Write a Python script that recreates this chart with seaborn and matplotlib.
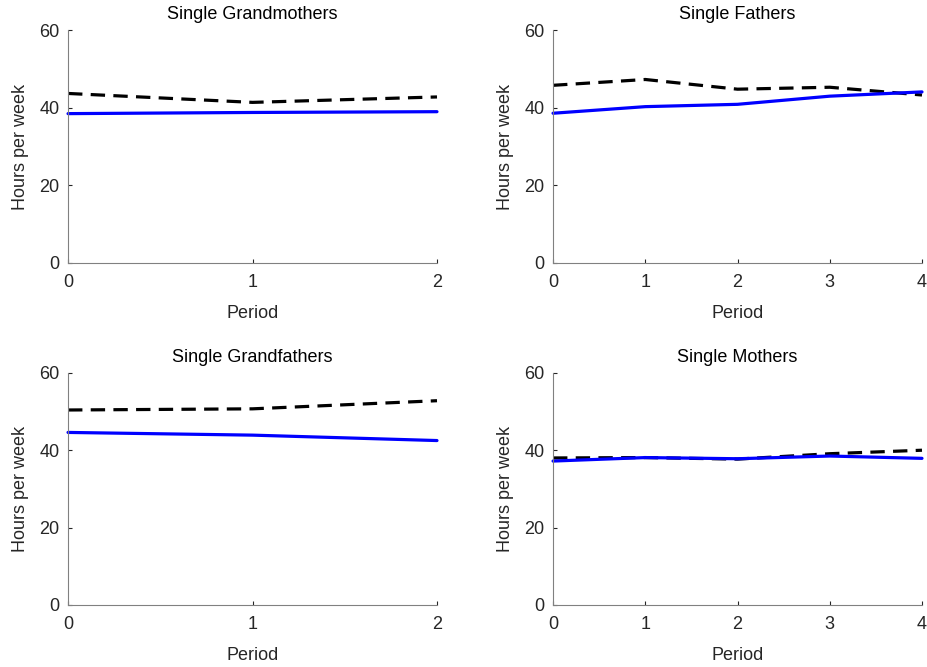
import matplotlib
matplotlib.use("Agg")
import matplotlib.pyplot as plt
import seaborn as sns
import pandas as pd

# hours per week by period, solid = blue series, dashed = black series
gm_period = [0, 1, 2]
gm_solid = [38.5, 38.8, 39.0]
gm_dashed = [43.7, 41.4, 42.8]

sf_period = [0, 1, 2, 3, 4]
sf_solid = [38.6, 40.3, 40.9, 43.0, 44.1]
sf_dashed = [45.8, 47.3, 44.8, 45.3, 43.3]

gf_period = [0, 1, 2]
gf_solid = [44.6, 43.9, 42.5]
gf_dashed = [50.4, 50.7, 52.8]

sm_period = [0, 1, 2, 3, 4]
sm_solid = [37.2, 38.1, 37.8, 38.5, 37.9]
sm_dashed = [38.0, 38.1, 37.7, 39.1, 40.0]

panels = [
    ("Single Grandmothers", gm_period, gm_solid, gm_dashed),
    ("Single Fathers", sf_period, sf_solid, sf_dashed),
    ("Single Grandfathers", gf_period, gf_solid, gf_dashed),
    ("Single Mothers", sm_period, sm_solid, sm_dashed),
]

sns.set_theme(style="ticks")
plt.rcParams['font.family'] = ['Liberation Sans', 'DejaVu Sans']
plt.rcParams['xtick.direction'] = 'in'
plt.rcParams['ytick.direction'] = 'in'

fig = plt.figure(figsize=(9.27, 6.67), dpi=100)

positions = [
    [0.0734, 0.6057, 0.398, 0.349],
    [0.5966, 0.6057, 0.398, 0.349],
    [0.0734, 0.0930, 0.398, 0.348],
    [0.5966, 0.0930, 0.398, 0.348],
]

fs = 13

for pos, (title, period, solid, dashed) in zip(positions, panels):
    ax = fig.add_axes(pos)

    df = pd.DataFrame({"Period": period, "solid": solid, "dashed": dashed})

    sns.lineplot(
        data=df, x="Period", y="dashed", ax=ax,
        color="black", linewidth=2.3, clip_on=False,
    )
    ax.lines[-1].set_linestyle((0, (4.5, 2.6)))

    sns.lineplot(
        data=df, x="Period", y="solid", ax=ax,
        color="#0000ff", linewidth=2.3, clip_on=False,
    )

    ax.set_xlim(0, max(period))
    ax.set_ylim(0, 60)
    ax.set_xticks(period)
    ax.set_yticks([0, 20, 40, 60])

    ax.set_title(title, fontsize=fs, color="black", pad=8)
    ax.set_xlabel("Period", fontsize=fs, color="#262626", labelpad=10)
    ax.set_ylabel("Hours per week", fontsize=fs, color="#262626", labelpad=7.5)

    ax.tick_params(labelsize=fs, colors="#262626", length=3, width=0.8)
    ax.tick_params(axis="x", pad=8)
    ax.tick_params(axis="y", pad=6)
    for side in ["top", "right"]:
        ax.spines[side].set_visible(False)
    for side in ["left", "bottom"]:
        ax.spines[side].set_color("#808080")
        ax.spines[side].set_linewidth(0.8)

fig.savefig("out.png", dpi=100)
plt.close()
